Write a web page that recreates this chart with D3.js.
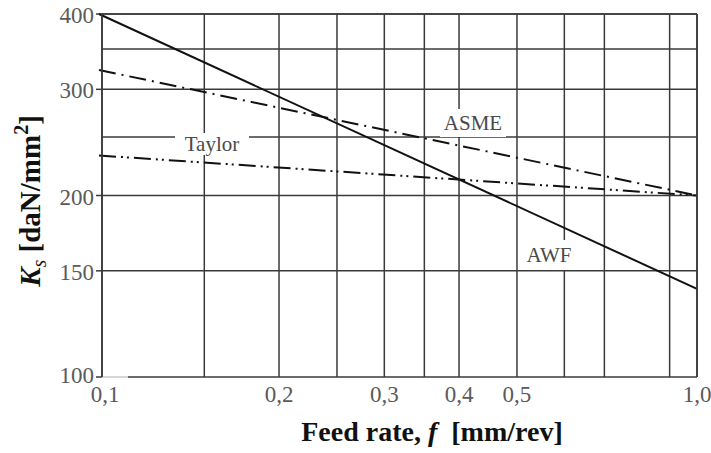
<!DOCTYPE html>
<html><head><meta charset="utf-8">
<script src="https://cdn.jsdelivr.net/npm/d3@7"></script>
<style>body{margin:0;background:#fff}svg{display:block}</style>
</head><body><svg id="c" width="711" height="453"></svg>
<script>
const xGrid = [0.1, 0.15, 0.2, 0.25, 0.3, 0.35, 0.4, 0.5, 0.6, 0.7, 0.9, 1.0];
const xTicks = [0.1, 0.2, 0.3, 0.4, 0.5, 1.0];
const xTickLabels = ["0,1", "0,2", "0,3", "0,4", "0,5", "1,0"];
const yGrid = [100, 150, 200, 250, 300, 350, 400];
const yTicks = [100, 150, 200, 300, 400];
const feed = [0.1, 1.0];
const awf = [400, 140];
const asme = [323, 200];
const taylor = [233, 200];
const seriesNames = ["AWF", "ASME", "Taylor"];

const svg = d3.select("#c");
const L = 102, R = 697, T = 14, B = 377;
const x = d3.scaleLog().domain([0.1, 1]).range([99, R]);
const y = d3.scaleLog().domain([100, 400]).range([B, T]);
const gridCol = "#3a3a3a";
const g = svg.append("g");

// grid
g.selectAll("line.vx").data(xGrid).join("line")
  .attr("x1", d => d === 0.1 ? L : x(d)).attr("x2", d => d === 0.1 ? L : x(d))
  .attr("y1", T).attr("y2", B).attr("stroke", gridCol).attr("stroke-width", 1.5);
g.selectAll("line.hy").data(yGrid).join("line")
  .attr("x1", d => d === 100 ? 128 : L).attr("x2", R)
  .attr("y1", d => y(d)).attr("y2", d => y(d)).attr("stroke", gridCol).attr("stroke-width", 1.5);
g.append("line").attr("x1", L).attr("x2", 128).attr("y1", B).attr("y2", B)
  .attr("stroke", "#bbb").attr("stroke-width", 1.2);

// y ticks
g.selectAll("line.yt").data(yTicks).join("line")
  .attr("x1", L - 6).attr("x2", L).attr("y1", d => y(d)).attr("y2", d => y(d))
  .attr("stroke", gridCol).attr("stroke-width", 1.5);

const serif = "'Liberation Serif','DejaVu Serif',serif";
g.selectAll("text.yl").data(yTicks).join("text")
  .attr("x", L - 8).attr("y", d => y(d) + (d === 100 ? -2 : 1)).attr("dy", "0.35em")
  .attr("text-anchor", "end").attr("font-family", serif).attr("font-size", 23)
  .attr("fill", "#5a5a5a").text(d => d);
g.selectAll("text.xl").data(xTicks).join("text")
  .attr("x", (d, i) => d === 0.1 ? 105 : x(d)).attr("y", 402)
  .attr("text-anchor", "middle").attr("font-family", serif).attr("font-size", 23)
  .attr("fill", "#5a5a5a").text((d, i) => xTickLabels[i]);

// lines
const line = d3.line().x(d => x(d[0])).y(d => y(d[1]));
const mk = v => feed.map((f, i) => [f, v[i]]);
const lines = [
  {v: awf, dash: null},
  {v: asme, dash: "17,6,2,6"},
  {v: taylor, dash: "17,5,2,4,2,5"}
];
g.selectAll("path.s").data(lines).join("path")
  .attr("d", d => line(mk(d.v))).attr("fill", "none").attr("stroke", "#111")
  .attr("stroke-width", 2).attr("stroke-dasharray", d => d.dash);

// labels with white boxes
const labels = [
  {t: seriesNames[1], x: 473, y: 123, w: 66, h: 28},
  {t: seriesNames[2], x: 212, y: 144, w: 74, h: 22},
  {t: seriesNames[0], x: 549, y: 255, w: 58, h: 30}
];
labels.forEach(l => {
  g.append("rect").attr("x", l.x - l.w / 2).attr("y", l.y - l.h / 2)
    .attr("width", l.w).attr("height", l.h).attr("fill", "#fff");
  g.append("text").attr("x", l.x).attr("y", l.y).attr("dy", "0.35em")
    .attr("text-anchor", "middle").attr("font-family", serif).attr("font-size", 21)
    .attr("fill", "#4a4a4a").text(l.t);
});
// frame
g.append("line").attr("x1", L).attr("x2", L).attr("y1", T).attr("y2", B).attr("stroke", gridCol).attr("stroke-width", 1.6);
g.append("line").attr("x1", R).attr("x2", R).attr("y1", T).attr("y2", B).attr("stroke", gridCol).attr("stroke-width", 1.6);
g.append("line").attr("x1", L).attr("x2", R).attr("y1", T).attr("y2", T).attr("stroke", gridCol).attr("stroke-width", 1.6);

// axis titles
svg.append("text").attr("x", 432).attr("y", 441).attr("text-anchor", "middle")
  .attr("font-family", serif).attr("font-weight", "bold").attr("font-size", 28).attr("fill", "#111")
  .attr("xml:space", "preserve")
  .html("Feed rate, <tspan font-style='italic'>f</tspan>  [mm/rev]");
const yt = svg.append("text").attr("transform", "translate(40,201) rotate(-90)")
  .attr("text-anchor", "middle").attr("font-family", serif).attr("font-weight", "bold")
  .attr("font-size", 29).attr("fill", "#111");
yt.append("tspan").attr("font-style", "italic").text("K");
yt.append("tspan").attr("font-style", "italic").attr("font-size", 20).attr("dy", 6).attr("font-weight", "normal").text("s");
yt.append("tspan").attr("dy", -6).text("  [daN/mm");
yt.append("tspan").attr("font-size", 20).attr("dy", -12).text("2");
yt.append("tspan").attr("dy", 12).text("]");
</script></body></html>
